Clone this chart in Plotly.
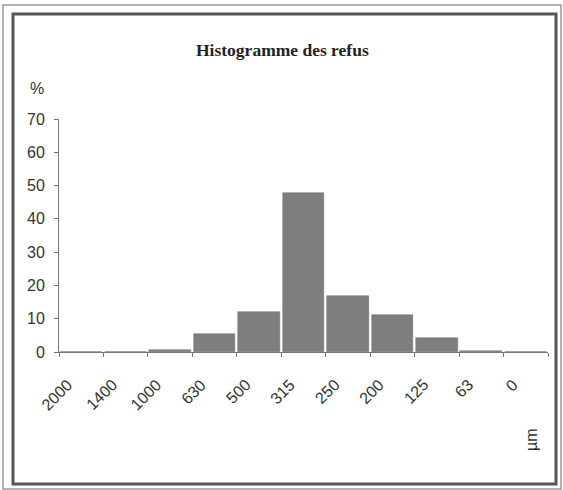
import plotly.graph_objects as go

# Sieve boundaries (µm) shown as tick labels, and % retained per interval
boundaries = ["2000", "1400", "1000", "630", "500", "315", "250", "200", "125", "63", "0"]
retained = [0, 0, 0.7, 5.3, 12.1, 47.8, 16.9, 11.1, 4.2, 0.4, 0]
y_ticks = [0, 10, 20, 30, 40, 50, 60, 70]

bar_x = [i + 0.5 for i in range(len(retained))]

fig = go.Figure()
fig.add_trace(go.Bar(
    x=bar_x, y=retained, width=0.94,
    marker=dict(color="#7e7e7e", line=dict(color="#6a6a6a", width=0.5)),
    showlegend=False, hoverinfo="skip",
))

W, H = 563, 490
L, R, T, B = 59, 15, 119, 138
pw, ph = W - L - R, H - T - B

def px(xp):
    return (xp - L) / pw

def py(yp):
    return (H - B - yp) / ph

tickfont = dict(family="Liberation Sans, Arial, sans-serif", size=16, color="#333333")

annotations = [
    dict(text="<b>Histogramme des refus</b>", xref="paper", yref="paper",
         x=px(282), y=py(50), xanchor="center", yanchor="middle", showarrow=False,
         font=dict(family="Liberation Serif, Times New Roman, serif", size=17.5, color="#222222")),
    dict(text="%", xref="paper", yref="paper", x=px(37), y=py(88),
         xanchor="center", yanchor="middle", showarrow=False, font=tickfont),
    dict(text="µm", xref="paper", yref="paper", x=px(531), y=py(440),
         xanchor="center", yanchor="middle", showarrow=False,
         textangle=-90, font=tickfont),
]
# rotated boundary labels; the text end sits just right of and below each tick
for i, lab in enumerate(boundaries):
    d = 3.15 * len(lab)
    annotations.append(dict(
        text=lab, xref="x", yref="paper", x=i, xshift=11 - d, y=py(382 + d),
        xanchor="center", yanchor="middle", showarrow=False,
        textangle=-45, font=tickfont,
    ))

fig.update_layout(
    width=W, height=H,
    margin=dict(l=L, r=R, t=T, b=B, pad=0),
    paper_bgcolor="white", plot_bgcolor="white",
    bargap=0,
    xaxis=dict(
        range=[0, len(retained)], tickmode="array",
        tickvals=list(range(len(retained) + 1)),
        ticktext=[""] * (len(retained) + 1),
        ticks="outside", ticklen=4, tickcolor="#777777",
        showline=True, linecolor="#777777", linewidth=1,
        showgrid=False, zeroline=False, tickfont=tickfont,
    ),
    yaxis=dict(
        range=[0, 70], tickmode="array", tickvals=y_ticks,
        ticks="outside", ticklen=4, tickcolor="#777777",
        showline=True, linecolor="#777777", linewidth=1,
        showgrid=False, zeroline=False, tickfont=tickfont,
        ticklabelstandoff=6,
    ),
    shapes=[
        dict(type="rect", xref="paper", yref="paper",
             x0=px(3), x1=px(561), y0=py(489), y1=py(5),
             line=dict(color="#9a9a9a", width=1.5)),
        dict(type="rect", xref="paper", yref="paper",
             x0=px(13), x1=px(556), y0=py(484), y1=py(14),
             line=dict(color="#555555", width=3)),
    ],
    annotations=annotations,
)

fig.write_html("out.html", config={"displayModeBar": False},
               post_script="document.body.style.margin='0';document.body.style.overflow='hidden';")
